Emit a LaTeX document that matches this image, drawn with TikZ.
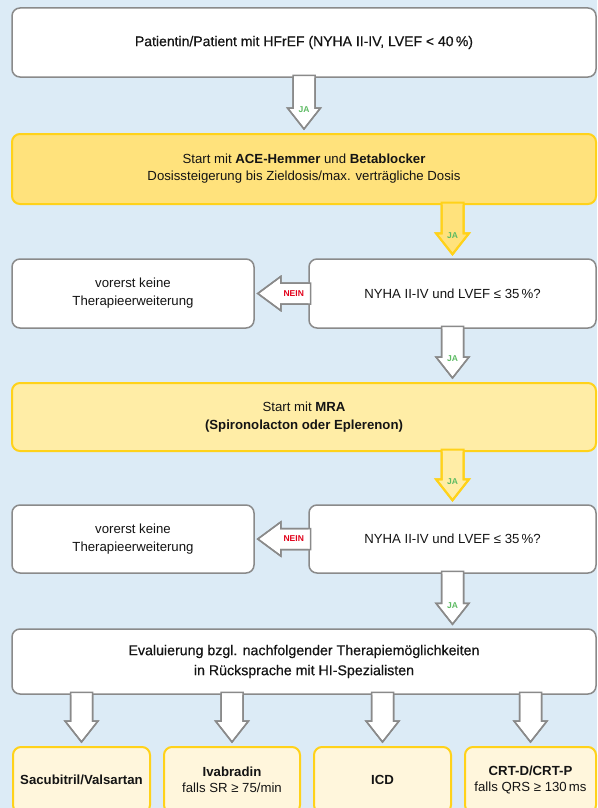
\documentclass[tikz,border=0pt]{standalone}
\usepackage{fontspec}
\setmainfont{Liberation Sans}
\newfontfamily\medfont[FakeBold=0.5]{Liberation Sans}
\usetikzlibrary{calc}
\definecolor{bg}{HTML}{DCEBF6}
\definecolor{graybd}{HTML}{8A8A8A}
\definecolor{yfillA}{HTML}{FFE27C}
\definecolor{yfillB}{HTML}{FFEDA6}
\definecolor{yfillC}{HTML}{FFF6DC}
\definecolor{ybd}{HTML}{FFD21A}
\definecolor{jagreen}{HTML}{5DBB63}
\definecolor{neinred}{HTML}{E2001A}
\definecolor{txt}{HTML}{141414}
\newcommand\vArrow[4]{%
  \coordinate (vs) at (#3.center |- #1.south);
  \coordinate (vt) at (#3.center |- #2.north);
  \fill[#4] ($(vs)+(-11,-2.4)$) -- ($(vt)+(-11,-25)$) -- ($(vt)+(-16.5,-25)$) -- ($(vt)+(0,-4)$)
     -- ($(vt)+(16.5,-25)$) -- ($(vt)+(11,-25)$) -- ($(vs)+(11,-2.4)$) -- cycle;
  \draw[#4, fill=none, line join=miter] ($(vs)+(-11,0)$) -- ($(vt)+(-11,-25)$) -- ($(vt)+(-16.5,-25)$) -- ($(vt)+(0,-4)$)
     -- ($(vt)+(16.5,-25)$) -- ($(vt)+(11,-25)$) -- ($(vs)+(11,0)$);
}
\newcommand\hArrow[3]{%
  \coordinate (hs) at (#1.west);
  \coordinate (ht) at (#2.east |- #1.west);
  \fill[#3] ($(hs)+(2.4,-10.5)$) -- ($(ht)+(26,-10.5)$) -- ($(ht)+(26,-17)$) -- ($(ht)+(3,0)$)
     -- ($(ht)+(26,17)$) -- ($(ht)+(26,10.5)$) -- ($(hs)+(2.4,10.5)$) -- cycle;
  \draw[#3, fill=none, line join=miter] ($(hs)+(0,-10.5)$) -- ($(ht)+(26,-10.5)$) -- ($(ht)+(26,-17)$) -- ($(ht)+(3,0)$)
     -- ($(ht)+(26,17)$) -- ($(ht)+(26,10.5)$) -- ($(hs)+(0,10.5)$);
}
\begin{document}
\begin{tikzpicture}[x=1pt,y=-1pt,
  base/.style={rounded corners=8pt, align=center, inner sep=0pt, text=txt,
    font=\fontsize{13.2}{17}\selectfont},
  wbox/.style={base, draw=graybd, line width=1.5pt, fill=white},
  yboxA/.style={base, draw=ybd, line width=2pt, fill=yfillA},
  yboxB/.style={base, draw=ybd, line width=2pt, fill=yfillB},
  yboxC/.style={base, draw=ybd, line width=2pt, fill=yfillC},
  warr/.style={fill=white, draw=graybd, line width=1.5pt},
  yarrA/.style={fill=yfillA, draw=ybd, line width=2pt},
  yarrB/.style={fill=yfillB, draw=ybd, line width=2pt},
  ja/.style={text=jagreen, font=\bfseries\fontsize{8.5}{9}\selectfont, inner sep=0pt},
  nein/.style={text=neinred, font=\bfseries\fontsize{8.5}{9}\selectfont, inner sep=0pt}]
\useasboundingbox (0,0) rectangle (597,808);
\clip (0,0) rectangle (597,808);
\fill[bg] (0,0) rectangle (597,808);

\node[wbox, minimum width=584pt, minimum height=69pt, font=\medfont\fontsize{14}{17}\selectfont] (b1) at (304,42.5)
  {Patientin/Patient mit HFrEF (NYHA II-IV, LVEF < 40\,\%)};
\node[yboxA, minimum width=584pt, minimum height=70pt] (b2) at (304,169)
  {Start mit \textbf{ACE-Hemmer} und \textbf{Betablocker}\\Dosissteigerung bis Zieldosis/max. verträgliche Dosis};
\node[wbox, minimum width=242pt, minimum height=69pt, font=\fontsize{13.2}{18}\selectfont] (b3l) at (133,293.5)
  {vorerst keine\\Therapieerweiterung};
\node[wbox, minimum width=287pt, minimum height=69pt] (b3r) at (452.5,293.5)
  {NYHA II-IV und LVEF ≤ 35\,\%?};
\node[yboxB, minimum width=584pt, minimum height=68pt, font=\fontsize{13.2}{18}\selectfont] (b4) at (304,417)
  {Start mit \textbf{MRA}\\\textbf{(Spironolacton oder Eplerenon)}};
\node[wbox, minimum width=242pt, minimum height=68pt, font=\fontsize{13.2}{18}\selectfont] (b5l) at (133,539)
  {vorerst keine\\Therapieerweiterung};
\node[wbox, minimum width=287pt, minimum height=68pt] (b5r) at (452.5,539)
  {NYHA II-IV und LVEF ≤ 35\,\%?};
\node[wbox, minimum width=584pt, minimum height=65pt, font=\medfont\fontsize{14.2}{20}\selectfont] (b6) at (304,661.5)
  {Evaluierung bzgl. nachfolgender Therapiemöglichkeiten\\in Rücksprache mit HI-Spezialisten};
\node[yboxC, minimum width=137pt, minimum height=66pt, font=\fontsize{13.2}{16}\selectfont] (c1) at (81.5,780)
  {\textbf{Sacubitril/Valsartan}};
\node[yboxC, minimum width=136pt, minimum height=66pt, font=\fontsize{13.2}{16}\selectfont] (c2) at (232,780)
  {\textbf{Ivabradin}\\falls SR ≥ 75/min};
\node[yboxC, minimum width=137pt, minimum height=66pt, font=\fontsize{13.2}{16}\selectfont] (c3) at (382.5,780)
  {\textbf{ICD}};
\node[yboxC, minimum width=131pt, minimum height=66pt, font=\fontsize{13.2}{16}\selectfont] (c4) at (530.5,780)
  {\textbf{CRT-D/CRT-P}\\falls QRS ≥ 130\,ms};

\vArrow{b1}{b2}{b1}{warr}
\node[ja] (ja1) at ($(vt)+(0,-23)$) {JA};
\vArrow{b2}{b3r}{b3r}{yarrA}
\node[ja] (ja2) at ($(vt)+(0,-23)$) {JA};
\vArrow{b3r}{b4}{b3r}{warr}
\node[ja] (ja3) at ($(vt)+(0,-23)$) {JA};
\vArrow{b4}{b5r}{b5r}{yarrB}
\node[ja] (ja4) at ($(vt)+(0,-23)$) {JA};
\vArrow{b5r}{b6}{b5r}{warr}
\node[ja] (ja5) at ($(vt)+(0,-23)$) {JA};
\hArrow{b3r}{b3l}{warr}
\node[nein] (nein1) at ($(ht)+(39,0)$) {NEIN};
\hArrow{b5r}{b5l}{warr}
\node[nein] (nein2) at ($(ht)+(39,0)$) {NEIN};
\vArrow{b6}{c1}{c1}{warr}
\vArrow{b6}{c2}{c2}{warr}
\vArrow{b6}{c3}{c3}{warr}
\vArrow{b6}{c4}{c4}{warr}
\end{tikzpicture}
\end{document}
